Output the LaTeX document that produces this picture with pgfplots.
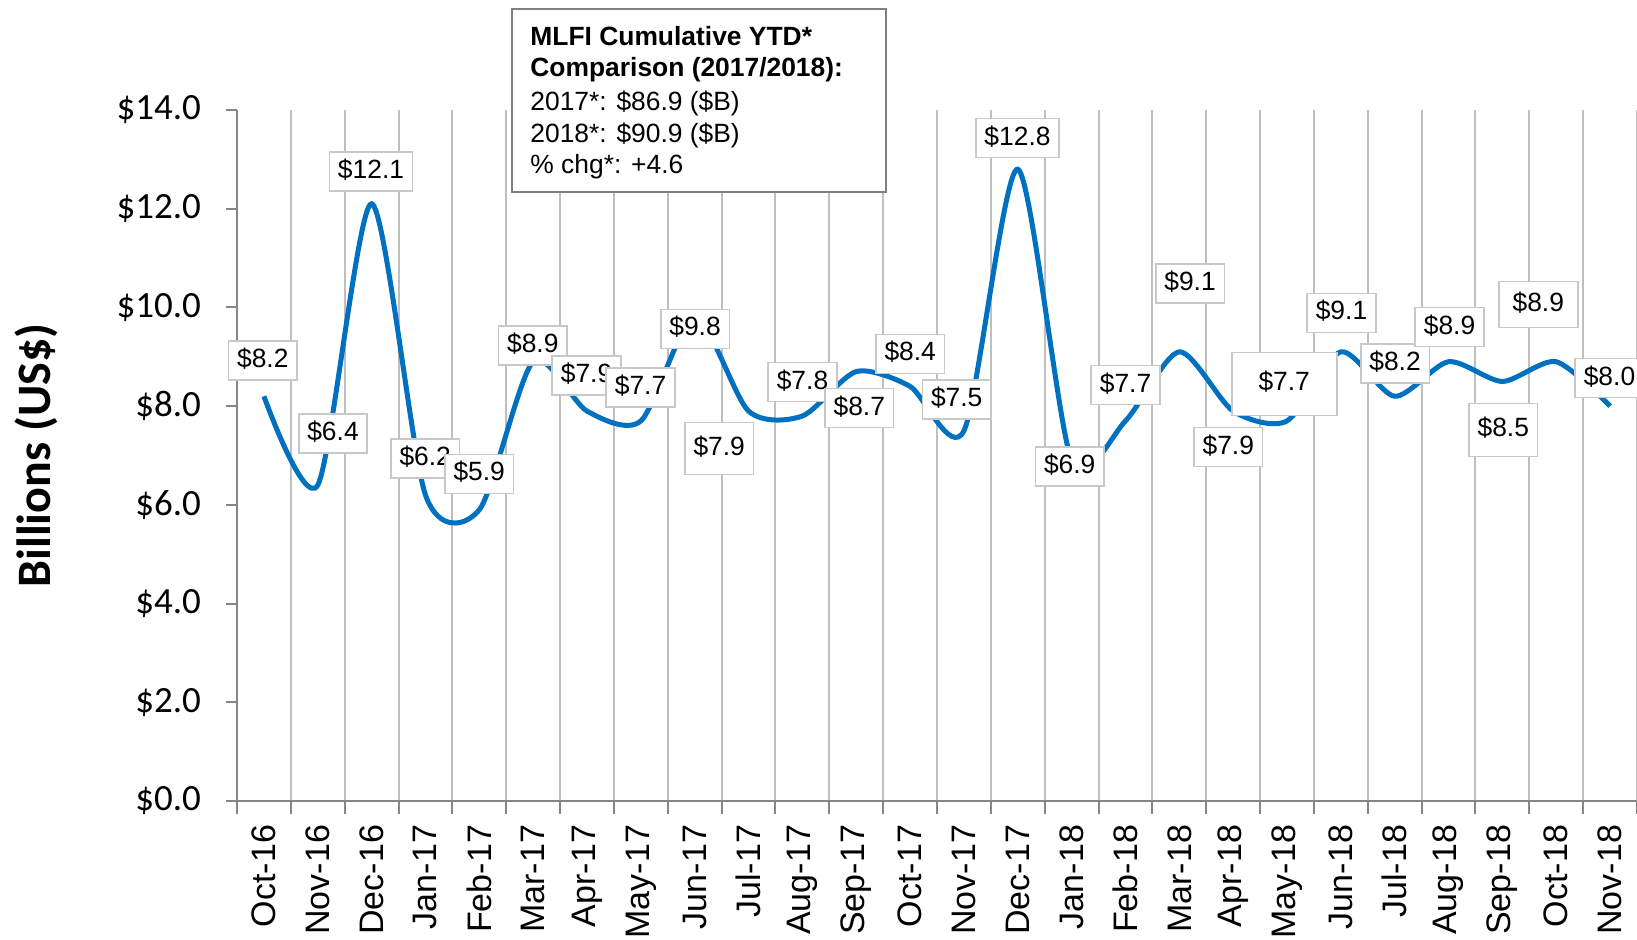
\documentclass[border=0pt]{standalone}
\usepackage{pgfplots}
\pgfplotsset{compat=1.18}
\usepackage{fontspec}
\setmainfont{Liberation Sans}
\newfontfamily\carlito{Carlito}
\definecolor{lineblue}{RGB}{0,112,192}
\definecolor{gridgray}{RGB}{191,191,191}
\definecolor{axisgray}{RGB}{134,134,134}
\definecolor{lblgray}{RGB}{200,200,200}
\definecolor{boxgray}{RGB}{128,128,128}
\begin{document}
\begin{tikzpicture}[
  lbl/.style={draw=lblgray, line width=0.8pt, fill=white, font=\fontsize{13.2}{15}\selectfont,
    inner xsep=4.3pt, inner ysep=3.75pt, text height=9.5pt, text depth=2.5pt},
  anntxt/.style={anchor=base west, inner sep=0pt, font=\fontsize{13.2}{15}\selectfont}
]
\useasboundingbox (-118.5pt,-69.5pt) rectangle (700pt,400.5pt);
\begin{axis}[
  at={(0pt,0pt)}, anchor=south west,
  scale only axis, width=700pt, height=345.5pt,
  xmin=-0.5, xmax=25.5, ymin=0, ymax=14,
  clip=false,
  axis lines*=left,
  axis line style={-, draw=axisgray, line width=1pt},
  tick align=outside,
  xtick={0,...,25},
  xticklabels={Oct-16,Nov-16,Dec-16,Jan-17,Feb-17,Mar-17,Apr-17,May-17,Jun-17,Jul-17,Aug-17,Sep-17,Oct-17,Nov-17,Dec-17,Jan-18,Feb-18,Mar-18,Apr-18,May-18,Jun-18,Jul-18,Aug-18,Sep-18,Oct-18,Nov-18},
  minor xtick={-0.5,0.5,...,25.5},
  major x tick style={draw=none},
  minor x tick style={draw=axisgray, line width=1pt},
  minor tick length=6.5pt,
  major tick length=5.5pt,
  xminorgrids=true,
  minor x grid style={draw=gridgray, line width=1pt},
  ytick={0,2,...,14},
  yticklabels={\$0.0,\$2.0,\$4.0,\$6.0,\$8.0,\$10.0,\$12.0,\$14.0},
  ytick style={draw=axisgray, line width=1pt},
  xticklabel style={yshift=-3pt, rotate=90, anchor=east, font=\fontsize{17}{20}\selectfont},
  yticklabel style={xshift=-9pt, font=\carlito\fontsize{18.5}{21}\selectfont},
  ylabel={Billions (US\$)},
  every axis y label/.style={at={(axis description cs:-0.1436,0.5)}, rotate=90, anchor=center, font=\carlito\bfseries\fontsize{24}{28}\selectfont},
]
\addplot[lineblue, line width=2.5pt, smooth, tension=0.45] coordinates {
(0,8.2) (1,6.4) (2,12.1) (3,6.2) (4,5.9) (5,8.9) (6,7.9) (7,7.7) (8,9.8) (9,7.9)
(10,7.8) (11,8.7) (12,8.4) (13,7.5) (14,12.8) (15,6.9) (16,7.7) (17,9.1) (18,7.9) (19,7.7)
(20,9.1) (21,8.2) (22,8.9) (23,8.5) (24,8.9) (25,8.0)};
\node[lbl] at (-0.021,8.92) {\$8.2};
\node[lbl] at (1.283,7.45) {\$6.4};
\node[lbl] at (1.989,12.755) {\$12.1};
\node[lbl] at (2.995,6.943) {\$6.2};
\node[lbl] at (3.998,6.627) {\$5.9};
\node[lbl] at (4.993,9.229) {\$8.9};
\node[lbl] at (5.991,8.618) {\$7.9};
\node[lbl] at (6.994,8.381) {\$7.7};
\node[lbl] at (8.006,9.564) {\$9.8};
\node[lbl, minimum width=34pt, minimum height=26pt] at (8.455,7.145) {\$7.9};
\node[lbl] at (10.002,8.486) {\$7.8};
\node[lbl] at (11.057,7.959) {\$8.7};
\node[lbl] at (12.002,9.059) {\$8.4};
\node[lbl] at (12.866,8.138) {\$7.5};
\node[lbl] at (13.995,13.432) {\$12.8};
\node[lbl] at (14.965,6.779) {\$6.9};
\node[lbl] at (16.001,8.425) {\$7.7};
\node[lbl] at (17.199,10.485) {\$9.1};
\node[lbl] at (17.91,7.17) {\$7.9};
\node[lbl, minimum width=52.5pt, minimum height=31.5pt] at (18.948,8.452) {\$7.7};
\node[lbl] at (20.012,9.888) {\$9.1};
\node[lbl] at (21.006,8.865) {\$8.2};
\node[lbl] at (22.018,9.6) {\$8.9};
\node[lbl, minimum width=34pt, minimum height=26.5pt] at (23.017,7.52) {\$8.5};
\node[lbl, minimum width=39.5pt, minimum height=23pt] at (23.667,10.056) {\$8.9};
\node[lbl] at (24.989,8.567) {\$8.0};
\node[draw=boxgray, line width=1pt, fill=white, anchor=north west, minimum width=187pt, minimum height=91.5pt, inner sep=0pt] (ann) at (4.589,16.06) {};
\node[anntxt] at ([xshift=9.5pt,yshift=-18.5pt]ann.north west) {\bfseries MLFI Cumulative YTD*};
\node[anntxt] at ([xshift=9.5pt,yshift=-34.2pt]ann.north west) {\bfseries Comparison (2017/2018):};
\node[anntxt] at ([xshift=9.5pt,yshift=-50.9pt]ann.north west) {2017*: \$86.9 (\$B)};
\node[anntxt] at ([xshift=9.5pt,yshift=-67pt]ann.north west) {2018*: \$90.9 (\$B)};
\node[anntxt] at ([xshift=9.5pt,yshift=-82.7pt]ann.north west) {\% chg*: +4.6};
\end{axis}
\end{tikzpicture}
\end{document}
